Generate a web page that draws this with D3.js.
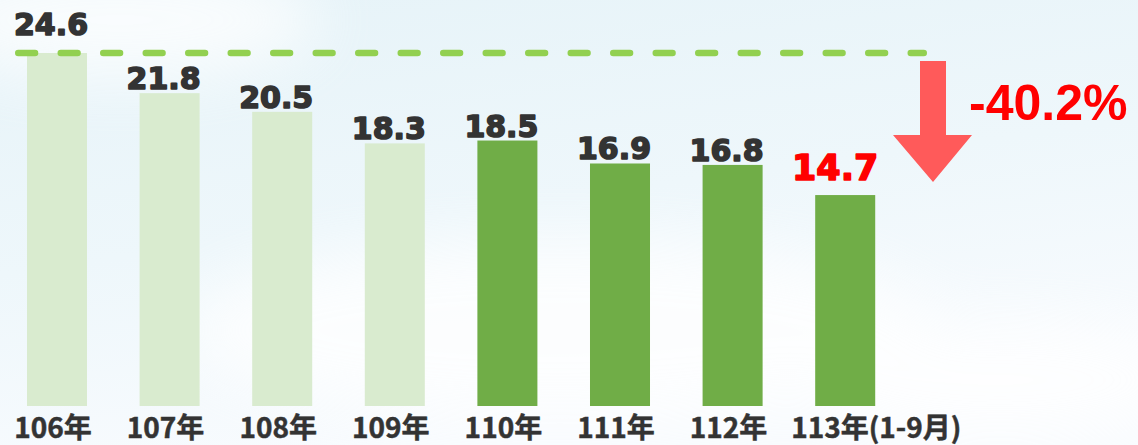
<!DOCTYPE html>
<html>
<head>
<meta charset="utf-8">
<script src="https://cdn.jsdelivr.net/npm/d3@7"></script>
<style>
html,body{margin:0;padding:0;background:#f6fafd;}
svg{display:block;}
</style>
</head>
<body>
<svg id="chart" width="1138" height="445"></svg>
<script>
const categories = ["106年","107年","108年","109年","110年","111年","112年","113年(1-9月)"];
const values = [24.6, 21.8, 20.5, 18.3, 18.5, 16.9, 16.8, 14.7];
const valueLabels = ["24.6","21.8","20.5","18.3","18.5","16.9","16.8","14.7"];
const changeLabel = "-40.2%";

const W = 1138, H = 445;
const svg = d3.select("#chart");

// background
const defs = svg.append("defs");
const bg = defs.append("linearGradient").attr("id","bg").attr("x1","0").attr("y1","0").attr("x2","0.35").attr("y2","1");
bg.append("stop").attr("offset","0%").attr("stop-color","#e6f3f8");
bg.append("stop").attr("offset","55%").attr("stop-color","#eef7fb");
bg.append("stop").attr("offset","100%").attr("stop-color","#f8fbfe");
svg.append("rect").attr("width",W).attr("height",H).attr("fill","url(#bg)");
const blur = defs.append("filter").attr("id","blur").attr("x","-50%").attr("y","-50%").attr("width","200%").attr("height","200%");
blur.append("feGaussianBlur").attr("stdDeviation",30);
const clouds = svg.append("g").attr("filter","url(#blur)").attr("fill","#ffffff").attr("opacity",0.75);
clouds.append("ellipse").attr("cx",120).attr("cy",20).attr("rx",200).attr("ry",60);
clouds.append("ellipse").attr("cx",560).attr("cy",330).attr("rx",380).attr("ry",90);
clouds.append("ellipse").attr("cx",1000).attr("cy",380).attr("rx",200).attr("ry",60);

const x = d3.scaleBand().domain(categories).range([0.7, 901.5]).paddingInner(0.467).paddingOuter(0.2335);
const y = d3.scaleLinear().domain([0, 24.6]).range([406, 53]);

// bars
svg.append("g").selectAll("rect").data(values).join("rect")
  .attr("x",(d,i)=>x(categories[i]))
  .attr("y",d=>y(d))
  .attr("width",x.bandwidth())
  .attr("height",d=>y(0)-y(d))
  .attr("fill",(d,i)=> i<4 ? "#d9ebcf" : "#70ad47");

// dashed reference line
svg.append("line")
  .attr("x1",18.25).attr("x2",923.75)
  .attr("y1",y(values[0])).attr("y2",y(values[0]))
  .attr("stroke","#92d050").attr("stroke-width",6.5)
  .attr("stroke-linecap","round")
  .attr("stroke-dasharray","16.8,25.7");

// value labels
svg.append("g").selectAll("text").data(values).join("text")
  .attr("x",(d,i)=>x(categories[i]) + x.bandwidth()/2 - (i===7 ? 10 : 6))
  .attr("y",(d,i)=> y(d) - (i===0 ? 18 : (i===7 ? 15 : 4)))
  .attr("text-anchor","middle")
  .attr("font-family","DejaVu Sans, sans-serif")
  .attr("font-weight","bold")
  .attr("font-size",(d,i)=> i===7 ? 35 : 30)
  .attr("fill",(d,i)=> i===7 ? "#ff0000" : "#333333")
  .attr("stroke",(d,i)=> i===7 ? "#ff0000" : "#333333")
  .attr("stroke-width",1.6)
  .attr("stroke-linejoin","round")
  .text((d,i)=>valueLabels[i]);

// category labels
svg.append("g").selectAll("text").data(categories).join("text")
  .attr("x",(d,i)=> i===7 ? x(d) - 24 : x(d) + x.bandwidth()/2 - 4)
  .attr("y",438)
  .attr("text-anchor",(d,i)=> i===7 ? "start" : "middle")
  .attr("font-family","'Noto Sans CJK TC', 'Noto Sans CJK SC', sans-serif")
  .attr("font-weight","bold")
  .attr("font-size",28)
  .attr("fill","#333333")
  .attr("stroke","#333333")
  .attr("stroke-width",0.5)
  .text(d=>d);

// arrow
const ax = 933, top0 = y(values[0]) + 8, headY = 135, tipY = y(values[7]) - 13;
const arrowPts = [[ax-13,top0],[ax+13,top0],[ax+13,headY],[ax+39,headY],[ax,tipY],[ax-40,headY],[ax-13,headY]];
svg.append("path")
  .attr("d", d3.line()(arrowPts) + "Z")
  .attr("fill","#ff5a5a");

svg.append("text")
  .attr("x",969).attr("y",120)
  .attr("font-family","Liberation Sans, Arial, sans-serif")
  .attr("font-weight","bold")
  .attr("font-size",50)
  .attr("fill","#ff0000")
  .text(changeLabel);
</script>
</body>
</html>
